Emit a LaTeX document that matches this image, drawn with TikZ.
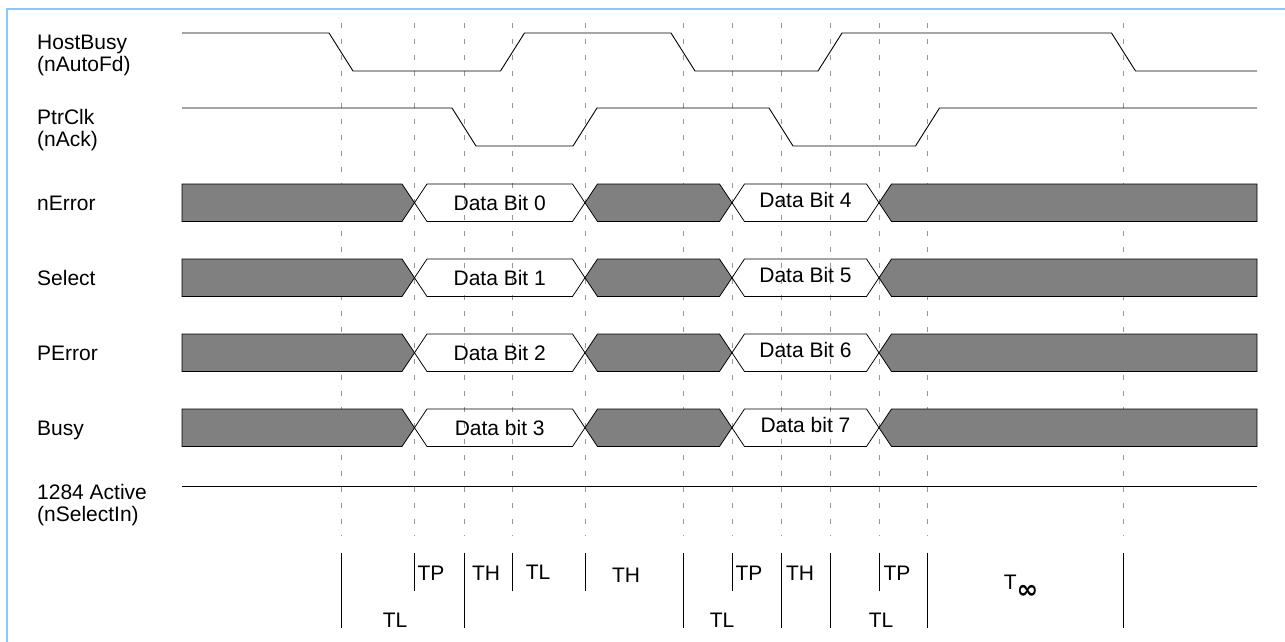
\documentclass[tikz,border=0pt]{standalone}
\usepackage{fontspec}
\setmainfont{Liberation Sans}
\newfontfamily\infsym{DejaVu Sans}
\definecolor{frameblue}{RGB}{140,198,250}
\definecolor{busgray}{RGB}{128,128,128}
\definecolor{guidegray}{RGB}{150,150,150}
\newcommand\busrow[5]{%
  \pgfmathsetmacro\busTop{#1-18.75}%
  \pgfmathsetmacro\busBot{#1+18.75}%
  \pgfmathsetmacro\busBase{#1+7.5}%
  \pgfmathsetmacro\busBaseB{#1+4.5}%
  \draw[busdark] (182,\busTop) -- (402,\busTop) -- (414.5,#1) -- (402,\busBot) -- (182,\busBot) -- cycle;
  \draw[busline] (414.5,#1) -- (427,\busTop) -- (572.5,\busTop) -- (585,#1) -- (572.5,\busBot) -- (427,\busBot) -- cycle;
  \draw[busdark] (585,#1) -- (597.5,\busTop) -- (719.5,\busTop) -- (732,#1) -- (719.5,\busBot) -- (597.5,\busBot) -- cycle;
  \draw[busline] (732,#1) -- (744.5,\busTop) -- (866.5,\busTop) -- (879,#1) -- (866.5,\busBot) -- (744.5,\busBot) -- cycle;
  \draw[busdark] (879,#1) -- (891.5,\busTop) -- (1257,\busTop) -- (1257,\busBot) -- (891.5,\busBot) -- cycle;
  \node[lbl] (#2lbl) at (37,\busBase) {#3};
  \node[dat] (#2a) at (499.75,\busBase) {#4};
  \node[dat] (#2b) at (805.5,\busBaseB) {#5};
}
\begin{document}
\begin{tikzpicture}[x=1pt,y=-1pt,
  lbl/.style={anchor=base west,inner sep=0pt,font=\fontsize{21}{22}\selectfont},
  dat/.style={anchor=base,inner sep=0pt,font=\fontsize{21}{22}\selectfont},
  wave/.style={line width=0.9pt,black,line join=miter},
  guide/.style={guidegray,line width=0.8pt,dash pattern=on 5pt off 11pt},
  busdark/.style={fill=busgray,draw=black,line width=0.8pt},
  busline/.style={draw=black,line width=0.8pt},
  tick/.style={black,line width=0.9pt}]
\useasboundingbox (0,0) rectangle (1285,642);
\fill[white] (0,0) rectangle (1285,642);
% frame
\draw[frameblue,line width=2pt] (7.3,642) -- (7.3,8.7) -- (1285,8.7);
% guides
\foreach \gx in {341,414.5,464,512.5,585,683,732,781,830,879,927.5,1123.5}
  \draw[guide] (\gx,23) -- (\gx,536);
% HostBusy
\node[lbl] (hb1) at (37,49) {HostBusy};
\node[lbl] (hb2) at (37,71) {(nAutoFd)};
\draw[wave] (182,33) -- (329,33) -- (353,71) -- (500.5,71) -- (524.5,33) -- (671,33) -- (695,71) -- (818,71) -- (842,33) -- (1111.5,33) -- (1135.5,71) -- (1257,71);
% PtrClk
\node[lbl] (pc1) at (37,124) {PtrClk};
\node[lbl] (pc2) at (37,146) {(nAck)};
\draw[wave] (182,108) -- (452,108) -- (476,146) -- (573,146) -- (597,108) -- (769,108) -- (793,146) -- (915.5,146) -- (939.5,108) -- (1257,108);
% buses
\busrow{202.75}{ne}{nError}{Data Bit 0}{Data Bit 4}
\busrow{277.75}{se}{Select}{Data Bit 1}{Data Bit 5}
\busrow{352.75}{pe}{PError}{Data Bit 2}{Data Bit 6}
\busrow{427.75}{bu}{Busy}{Data bit 3}{Data bit 7}
% 1284 Active
\node[lbl] (ac1) at (37,499) {1284 Active};
\node[lbl] (ac2) at (37,521) {(nSelectIn)};
\draw[wave] (182,486) -- (1257,486);
% bottom timing marks
\foreach \tx in {341,464,683,781,830,927.5,1123.5}
  \draw[tick] (\tx,553) -- (\tx,628);
\foreach \tx in {414.5,512.5,585,732,879}
  \draw[tick] (\tx,553) -- (\tx,591);
\node[dat] (tl1) at (395,627.5) {TL};
\node[dat] (tp1) at (431,580) {TP};
\node[dat] (th1) at (486,580) {TH};
\node[dat] (tl2) at (538,579) {TL};
\node[dat] (th2) at (626,582.5) {TH};
\node[dat] (tl3) at (722,627.5) {TL};
\node[dat] (tp2) at (749,580) {TP};
\node[dat] (th3) at (800,580) {TH};
\node[dat] (tl4) at (881,627.5) {TL};
\node[dat] (tp3) at (897,580) {TP};
\node[dat] (tinf) at (1021,589) {T\raisebox{-9pt}{\infsym\bfseries\fontsize{26}{28}\selectfont ∞}};
\end{tikzpicture}
\end{document}
